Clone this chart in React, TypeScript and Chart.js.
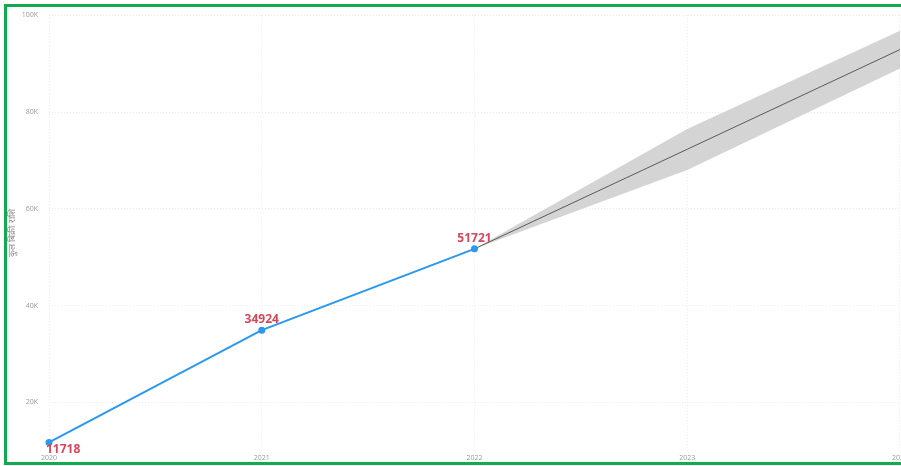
import React, { useEffect, useRef } from "react";
import { Chart, registerables } from "chart.js";

Chart.register(...registerables);

const years = [2020, 2021, 2022];
const values = [11718, 34924, 51721];
const forecastYears = [2022, 2023, 2024];
const forecastValues = [51721, 72300, 92900];
const upperBound = [51721, 76500, 96800];
const lowerBound = [51721, 68000, 89000];
const xTickYears = [2020, 2021, 2022, 2023, 2024];
const yTickValues = [20000, 40000, 60000, 80000, 100000];
const yTickLabels = ["20K", "40K", "60K", "80K", "100K"];
const yTitle = "कुल बिक्री राशि";

const labelPlugin = {
  id: "pointValueLabels",
  afterDatasetsDraw(chart: any) {
    const meta = chart.getDatasetMeta(0);
    const ctx = chart.ctx;
    ctx.save();
    ctx.font = 'bold 12px "Open Sans", "DejaVu Sans", sans-serif';
    ctx.fillStyle = "#D6475E";
    ctx.textBaseline = "alphabetic";
    meta.data.forEach((pt: any, i: number) => {
      const text = String(values[i]);
      if (i === 0) {
        ctx.textAlign = "left";
        ctx.fillText(text, pt.x - 3, pt.y + 11);
      } else {
        ctx.textAlign = "center";
        ctx.fillText(text, pt.x, pt.y - 7);
      }
    });
    ctx.restore();
  },
};

export default function App() {
  const canvasRef = useRef<HTMLCanvasElement | null>(null);

  useEffect(() => {
    const canvas = canvasRef.current;
    if (!canvas) return;
    const toXY = (xs: number[], ys: number[]) => xs.map((x, i) => ({ x, y: ys[i] }));
    const gridStyle = { color: "#ebebeb", lineWidth: 1, drawTicks: false };
    const tickFont = { family: '"Open Sans", "DejaVu Sans", sans-serif', size: 7 };
    const chart = new Chart(canvas, {
      type: "line",
      data: {
        datasets: [
          {
            data: toXY(years, values),
            borderColor: "#2B98F0",
            backgroundColor: "#2B98F0",
            borderWidth: 2,
            pointRadius: 2.5,
            pointHoverRadius: 2.5,
            fill: false,
            clip: false,
            order: 0,
          },
          {
            data: toXY(forecastYears, forecastValues),
            borderColor: "#5a5a5a",
            borderWidth: 1,
            pointRadius: 0,
            fill: false,
            order: 1,
          },
          {
            data: toXY(forecastYears, upperBound),
            borderWidth: 0,
            borderColor: "rgba(0,0,0,0)",
            backgroundColor: "#D4D4D4",
            pointRadius: 0,
            fill: "+1",
            order: 2,
          },
          {
            data: toXY(forecastYears, lowerBound),
            borderWidth: 0,
            borderColor: "rgba(0,0,0,0)",
            pointRadius: 0,
            fill: false,
            order: 3,
          },
        ],
      },
      options: {
        responsive: false,
        animation: false,
        layout: { padding: { top: 15, right: 10, bottom: 0, left: 0 } },
        plugins: {
          legend: { display: false },
          tooltip: { enabled: false },
        },
        scales: {
          x: {
            type: "linear",
            min: xTickYears[0],
            max: xTickYears[xTickYears.length - 1],
            afterBuildTicks: (s: any) => {
              s.ticks = xTickYears.map((v) => ({ value: v }));
            },
            afterFit: (s: any) => {
              s.height = 13;
            },
            grid: gridStyle,
            border: { display: false, dash: [1, 2] },
            ticks: {
              color: "#9a9a9a",
              font: tickFont,
              padding: 3,
              maxRotation: 0,
              autoSkip: false,
              callback: (v: any) => String(v),
            },
          },
          y: {
            type: "linear",
            min: 10000,
            max: 100000,
            afterBuildTicks: (s: any) => {
              s.ticks = yTickValues.map((v) => ({ value: v }));
            },
            afterFit: (s: any) => {
              s.width = 49;
            },
            grid: gridStyle,
            border: { display: false, dash: [1, 2] },
            ticks: {
              color: "#9a9a9a",
              font: tickFont,
              padding: 11,
              callback: (v: any) => {
                const idx = yTickValues.indexOf(Number(v));
                return idx >= 0 ? yTickLabels[idx] : "";
              },
            },
            title: {
              display: true,
              text: yTitle,
              color: "#8a8a8a",
              font: { family: '"Open Sans", "DejaVu Sans", sans-serif', size: 9 },
              padding: { top: 7, bottom: 0 },
            },
          },
        },
      },
      plugins: [labelPlugin],
    } as any);
    return () => chart.destroy();
  }, []);

  return (
    <div
      style={{
        position: "fixed",
        left: 0,
        top: 0,
        width: 901,
        height: 466,
        overflow: "hidden",
        background: "#ffffff",
      }}
    >
      <canvas
        ref={canvasRef}
        width={911}
        height={466}
        style={{ position: "absolute", left: 0, top: 0, width: 911, height: 466 }}
      />
      <div
        style={{
          position: "absolute",
          left: 4,
          top: 4,
          width: 1000,
          height: 455,
          border: "3px solid #12AA4E",
          pointerEvents: "none",
        }}
      />
    </div>
  );
}
